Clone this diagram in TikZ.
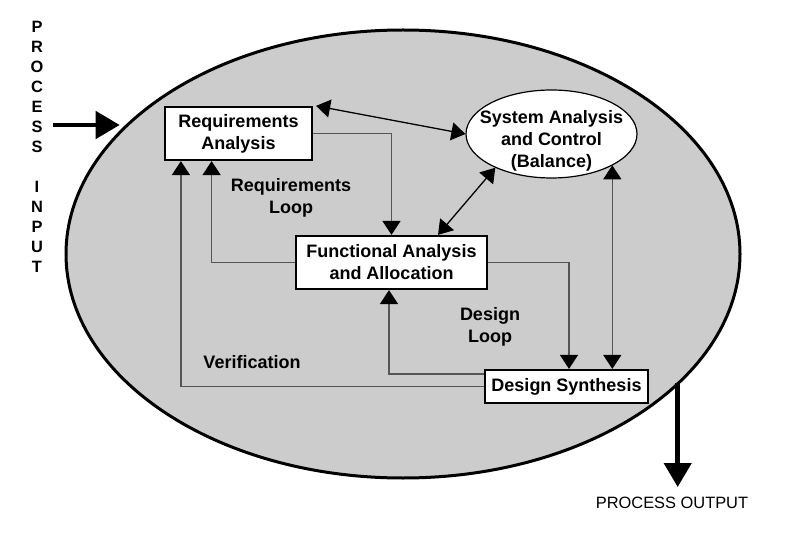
\documentclass[tikz,border=0pt]{standalone}
\usepackage{fontspec}
\setmainfont{Liberation Sans}
\usetikzlibrary{shapes.geometric,arrows.meta,calc}
\definecolor{envgray}{HTML}{CCCCCC}
\definecolor{linegray}{HTML}{555555}
\tikzset{
  boxnode/.style={draw=black, line width=2.2pt, fill=white, align=center, inner sep=0pt,
    font=\fontsize{18}{22}\selectfont\bfseries},
  lbl/.style={align=center, inner sep=0pt, font=\fontsize{18}{22}\selectfont\bfseries},
  conn/.style={draw=linegray, line width=1.5pt, -{Triangle[length=14pt,width=18pt,color=black]}},
  dbl/.style={draw=black, line width=1.3pt, {Triangle[length=14pt,width=18pt]}-{Triangle[length=14pt,width=18pt]}},
  dblg/.style={draw=linegray, line width=1.5pt, {Triangle[length=14pt,width=18pt,color=black]}-{Triangle[length=14pt,width=18pt,color=black]}},
  bigarrow/.style={draw=black, line width=4.5pt, -{Triangle[length=24pt,width=27pt]}},
}
\begin{document}
\begin{tikzpicture}[x=1pt,y=-1pt]
\useasboundingbox (0,0) rectangle (800,537);
% environment ellipse
\node[ellipse, draw=black, line width=3pt, fill=envgray, minimum width=674pt, minimum height=448pt, inner sep=0pt] (env) at (403,254) {};
% boxes
\node[boxnode, minimum width=147pt, minimum height=53pt] (ra) at (238.5,133.5) {Requirements\\Analysis};
\node[boxnode, minimum width=191pt, minimum height=53pt] (fa) at (391.5,262.5) {Functional Analysis\\and Allocation};
\node[boxnode, minimum width=163pt, minimum height=33pt] (ds) at (566.5,386.5) {Design Synthesis};
\node[ellipse, draw=black, line width=1.2pt, fill=white, minimum width=171pt, minimum height=88pt, inner sep=0pt] (sys) at (551.5,134) {};
\node[lbl] (systxt) at (551.5,141) {System Analysis\\and Control\\(Balance)};
% labels
\node[lbl] (rloop) at (291,198) {Requirements\\Loop};
\node[lbl] (dloop) at (490,327) {Design\\Loop};
\node[lbl] (verif) at (252,362) {Verification};
\node[align=center, inner sep=0pt, anchor=north, font=\fontsize{16.4}{20}\selectfont\bfseries] (pinlbl) at (37,21) {P\\R\\O\\C\\E\\S\\S\\ \\I\\N\\P\\U\\T};
\node[inner sep=0pt, font=\fontsize{16.4}{20}\selectfont] (poutlbl) at (672,503) {PROCESS OUTPUT};
% process input / output
\coordinate (pin) at (53,125);
\coordinate (pout) at (677.7,487);
\draw[bigarrow, shorten >=6pt] (pin) -- (pin -| env.155);
\draw[bigarrow] (pout |- env.-25.3) -- (pout);
% connectors
\draw[conn] (ra.east) -| (fa.north);
\draw[conn] (fa.west) -| ([xshift=47.7pt]ra.south west);
\draw[conn] (ds.west) -| ([xshift=17pt]ra.south west);
\draw[conn] ([yshift=12.5pt]ds.west) -| ([xshift=-2.5pt]fa.south);
\draw[conn] (fa.east) -| ([xshift=2.5pt]ds.north);
\coordinate (dsr) at ([xshift=45.8pt]ds.north);
\draw[dblg] (dsr) -- (dsr |- sys.-27.2);
\draw[dbl] ([xshift=3pt]ra.north east) -- (sys.west);
\draw[dbl] ([xshift=46.5pt]fa.north) -- (sys.-149);
\end{tikzpicture}
\end{document}
